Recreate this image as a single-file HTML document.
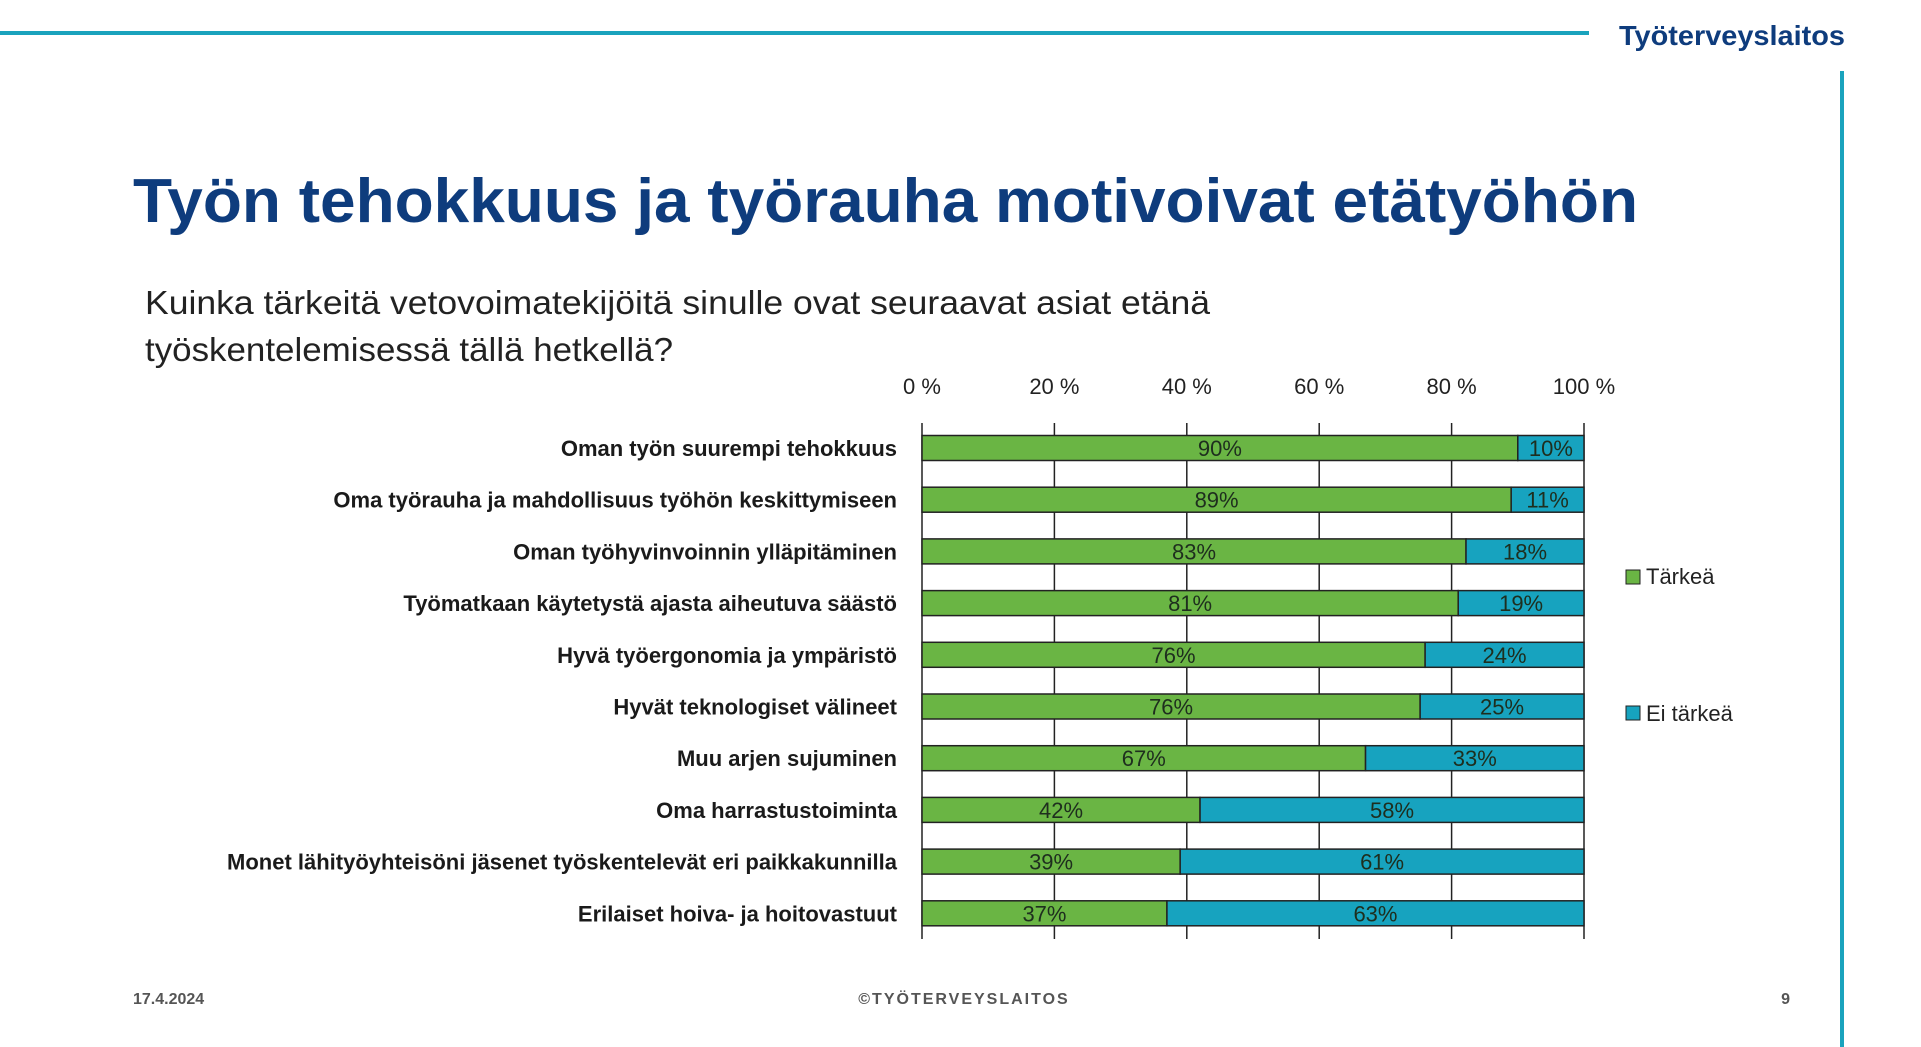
<!DOCTYPE html>
<html><head><meta charset="utf-8"><style>
html,body{margin:0;padding:0;background:#fff;}
svg{display:block;}
text{font-family:"Liberation Sans",sans-serif;}
</style></head><body>
<svg id="chart" width="1921" height="1047" viewBox="0 0 1921 1047">
<rect x="0" y="31" width="1589" height="4" fill="#1aa3bd"/>
<text x="1845" y="45" text-anchor="end" font-size="28" font-weight="bold" fill="#0e3c7d" textLength="226" lengthAdjust="spacingAndGlyphs">Työterveyslaitos</text>
<rect x="1840" y="71" width="4" height="976" fill="#1aa3bd"/>
<text x="133" y="222" font-size="62" font-weight="bold" fill="#0e3c7d" textLength="1505" lengthAdjust="spacingAndGlyphs">Työn tehokkuus ja työrauha motivoivat etätyöhön</text>
<text x="145" y="314" font-size="33" fill="#222" textLength="1065" lengthAdjust="spacingAndGlyphs">Kuinka tärkeitä vetovoimatekijöitä sinulle ovat seuraavat asiat etänä</text>
<text x="145" y="361" font-size="33" fill="#222" textLength="528" lengthAdjust="spacingAndGlyphs">työskentelemisessä tällä hetkellä?</text>
<g id="plot"></g>
<rect x="1626" y="570" width="14" height="14" fill="#6ab544" stroke="#222" stroke-width="1"/>
<text x="1646" y="584" font-size="22" fill="#222">Tärkeä</text>
<rect x="1626" y="706" width="14" height="14" fill="#17a3bf" stroke="#222" stroke-width="1"/>
<text x="1646" y="721" font-size="22" fill="#222">Ei tärkeä</text>
<text x="133" y="1004" font-size="16" font-weight="bold" fill="#555">17.4.2024</text>
<text x="964" y="1004" font-size="16" font-weight="bold" fill="#555" text-anchor="middle" letter-spacing="2">©TYÖTERVEYSLAITOS</text>
<text x="1790" y="1004" font-size="16" font-weight="bold" fill="#555" text-anchor="end">9</text>
</svg>
<script>
const categories = ["Oman työn suurempi tehokkuus","Oma työrauha ja mahdollisuus työhön keskittymiseen","Oman työhyvinvoinnin ylläpitäminen","Työmatkaan käytetystä ajasta aiheutuva säästö","Hyvä työergonomia ja ympäristö","Hyvät teknologiset välineet","Muu arjen sujuminen","Oma harrastustoiminta","Monet lähityöyhteisöni jäsenet työskentelevät eri paikkakunnilla","Erilaiset hoiva- ja hoitovastuut"];
const tarkea = [90,89,83,81,76,76,67,42,39,37];
const eiTarkea = [10,11,18,19,24,25,33,58,61,63];
const ticks = [0,20,40,60,80,100];
const tickLabels = ["0 %","20 %","40 %","60 %","80 %","100 %"];

const NS="http://www.w3.org/2000/svg";
const g=document.getElementById('plot');
const x0=922,x1=1584,yTop=423,yBot=939,rowStart=448,rowStep=51.7,barH=25;
const xs=v=>x0+(x1-x0)*v/100;
const ys=i=>rowStart+i*rowStep;
function mk(tag,attrs){const e=document.createElementNS(NS,tag);for(const k in attrs)e.setAttribute(k,attrs[k]);g.appendChild(e);return e;}
ticks.forEach((t,i)=>{
  const l=mk('line',{x1:xs(t),x2:xs(t),y1:yTop,y2:yBot,stroke:'#222','stroke-width':1.5});
  
  
  const tx=mk('text',{x:xs(t),y:394,'text-anchor':'middle','font-size':22,fill:'#222'});
  tx.textContent=tickLabels[i];
  
  
});
categories.forEach((c,i)=>{
  const tot=tarkea[i]+eiTarkea[i];
  const p=tarkea[i]/tot*100;
  const y=ys(i)-barH/2;
  const r1=mk('rect',{x:xs(0),y:y,width:xs(p)-xs(0),height:barH,fill:'#6ab544',stroke:'#222','stroke-width':1.5});
  
  
  const r2=mk('rect',{x:xs(p),y:y,width:xs(100)-xs(p),height:barH,fill:'#17a3bf',stroke:'#222','stroke-width':1.5});
  
  
  const t1=mk('text',{x:(xs(0)+xs(p))/2,y:ys(i)+8,'text-anchor':'middle','font-size':22,fill:'#1e2e1e'});
  t1.textContent=tarkea[i]+'%';
  
  
  const t2=mk('text',{x:(xs(p)+xs(100))/2,y:ys(i)+8,'text-anchor':'middle','font-size':22,fill:'#1e2e1e'});
  t2.textContent=eiTarkea[i]+'%';
  
  
  const cl=mk('text',{x:897,y:ys(i)+8,'text-anchor':'end','font-size':22,'font-weight':'bold',fill:'#1a1a1a'});
  cl.textContent=c;
  
  
});
</script>
</body></html>
